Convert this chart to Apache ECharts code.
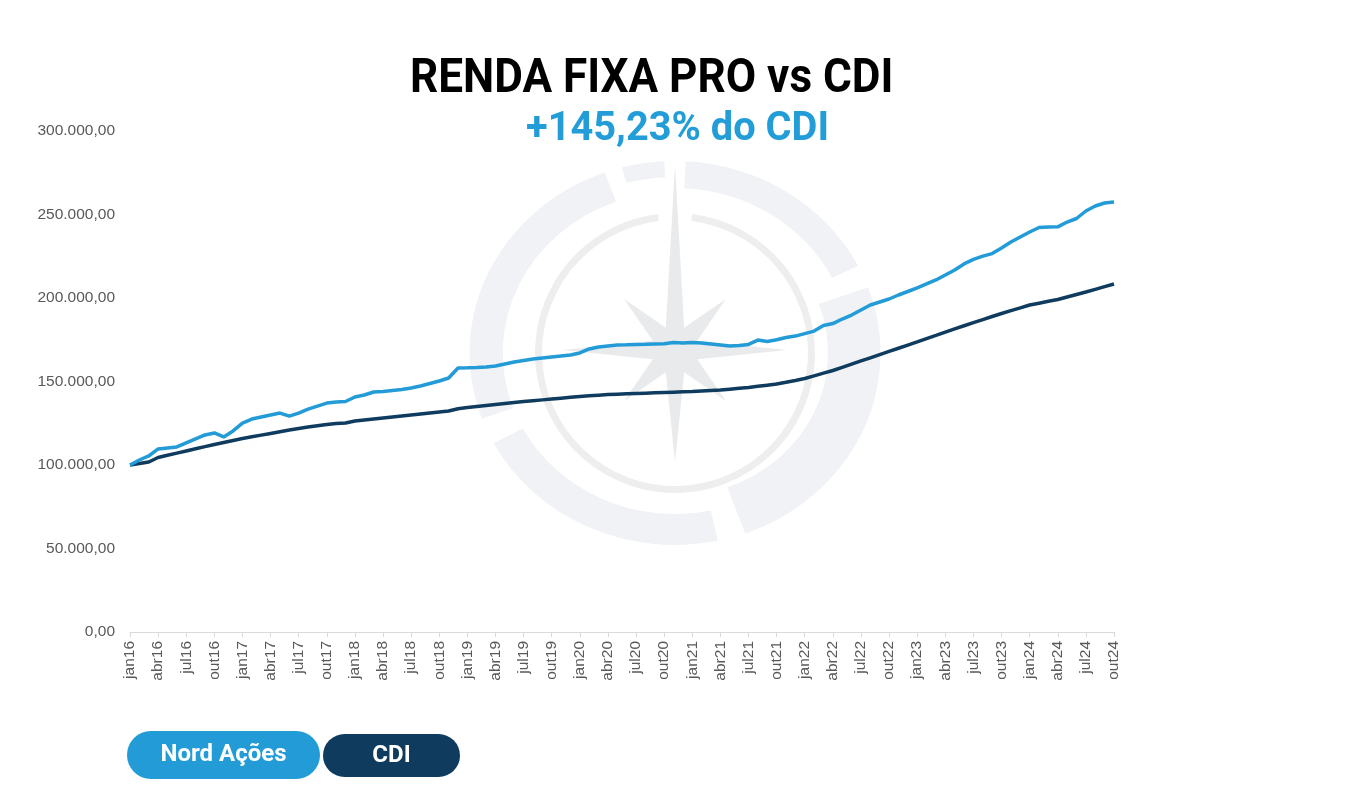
<!DOCTYPE html>
<html>
<head>
<meta charset="utf-8">
<script src="https://cdn.jsdelivr.net/npm/echarts@6/dist/echarts.min.js"></script>
<style>
html,body{margin:0;padding:0;background:#ffffff;}
#chart{width:1355px;height:798px;}
</style>
</head>
<body>
<div id="chart"></div>
<script>
// ---------- DATA ----------
var months = [
'jan16','fev16','mar16','abr16','mai16','jun16','jul16','ago16','set16','out16','nov16','dez16',
'jan17','fev17','mar17','abr17','mai17','jun17','jul17','ago17','set17','out17','nov17','dez17',
'jan18','fev18','mar18','abr18','mai18','jun18','jul18','ago18','set18','out18','nov18','dez18',
'jan19','fev19','mar19','abr19','mai19','jun19','jul19','ago19','set19','out19','nov19','dez19',
'jan20','fev20','mar20','abr20','mai20','jun20','jul20','ago20','set20','out20','nov20','dez20',
'jan21','fev21','mar21','abr21','mai21','jun21','jul21','ago21','set21','out21','nov21','dez21',
'jan22','fev22','mar22','abr22','mai22','jun22','jul22','ago22','set22','out22','nov22','dez22',
'jan23','fev23','mar23','abr23','mai23','jun23','jul23','ago23','set23','out23','nov23','dez23',
'jan24','fev24','mar24','abr24','mai24','jun24','jul24','ago24','set24','out24'
];

var nordAcoes = [
100000,103000,105400,109600,110200,110800,113200,115600,118000,119200,116800,120400,
125100,127500,128700,129900,131100,129300,131100,133500,135300,137100,137700,138000,
140700,141900,143700,144000,144600,145200,146100,147300,148800,150300,152100,158100,
158200,158400,158700,159300,160500,161700,162600,163500,164100,164700,165300,165900,
167100,169500,170700,171300,171900,172000,172200,172300,172500,172600,173400,173100,
173400,173100,172500,171900,171300,171600,172200,174800,174000,175000,176300,177200,
178700,180200,183500,184700,187400,189800,192800,195800,197600,199400,201800,203900,
206000,208400,210800,213800,216800,220400,223100,225100,226600,229900,233500,236500,
239500,242200,242500,242600,245500,247600,252100,255100,256900,257500
];

var cdi = [
100000,100900,101800,104500,105800,107100,108400,109700,111000,112300,113500,114700,
115900,116900,117900,118900,119900,120900,121900,122700,123500,124300,124800,125200,
126300,126900,127500,128100,128700,129300,129900,130500,131100,131700,132300,133700,
134400,135000,135600,136200,136800,137400,138000,138500,139000,139500,140000,140500,
141000,141400,141800,142200,142400,142600,142800,143000,143200,143400,143600,143800,
144000,144300,144600,144900,145400,145900,146400,147100,147800,148500,149500,150600,
151800,153400,155000,156600,158500,160400,162300,164200,166100,168000,169900,171800,
173700,175700,177600,179600,181500,183400,185300,187100,188900,190700,192400,194100,
195800,196900,198000,199100,200600,202100,203600,205200,206800,208400
];

var seriesNames = ['Nord Ações', 'CDI'];
var titleText = 'RENDA FIXA PRO vs CDI';
var subtitleText = '+145,23% do CDI';

// ---------- STYLE ----------
var LIGHT = '#229bd7';
var DARK = '#0f3c5e';
var RING = '#f0f2f6';
var STAR = '#e9eaec';

function brl(v) {
  var s = Math.round(v).toString();
  var out = '';
  for (var i = 0; i < s.length; i++) {
    if (i > 0 && (s.length - i) % 3 === 0) out += '.';
    out += s[i];
  }
  return out + ',00';
}

function deg(d) { return d * Math.PI / 180; }

// compass star polygon (decoration)
var starTips = [185, 72, 112, 72, 112, 72, 112, 72]; // N, NE, E, SE, S, SW, W, NW
var starPts = [];
for (var k = 0; k < 8; k++) {
  var a = -90 + k * 45;
  starPts.push([675 + starTips[k] * Math.cos(deg(a)), 350 + starTips[k] * Math.sin(deg(a))]);
  var b = a + 22.5;
  starPts.push([675 + 24 * Math.cos(deg(b)), 350 + 24 * Math.sin(deg(b))]);
}

function ring(s, e, r, r0) {
  return { type: 'sector', silent: true, z: 0,
    shape: { cx: 0, cy: 0, r: r, r0: r0, startAngle: deg(s), endAngle: deg(e), clockwise: true },
    style: { fill: RING } };
}

var chart = echarts.init(document.getElementById('chart'), null, { renderer: 'canvas' });

var option = {
  backgroundColor: '#ffffff',
  animation: false,
  grid: { left: 130, right: 241, top: 131, bottom: 166, containLabel: false },
  xAxis: {
    type: 'category',
    data: months,
    boundaryGap: false,
    axisLine: { show: true, lineStyle: { color: '#d9d9d9', width: 1 } },
    axisTick: { show: true, interval: 2, length: 5, lineStyle: { color: '#d9d9d9' } },
    axisLabel: {
      interval: 2, rotate: 90, margin: 9,
      color: '#595959', fontSize: 15.5, fontFamily: 'Liberation Sans, Arial, sans-serif'
    },
    splitLine: { show: false }
  },
  yAxis: {
    type: 'value',
    min: 0, max: 300000, interval: 50000,
    axisLine: { show: false },
    axisTick: { show: false },
    splitLine: { show: false },
    axisLabel: {
      margin: 15, color: '#595959', fontSize: 15.5,
      fontFamily: 'Liberation Sans, Arial, sans-serif',
      formatter: function (v) { return brl(v); }
    }
  },
  series: [
    {
      name: seriesNames[1], type: 'line', data: cdi, showSymbol: false, z: 5,
      lineStyle: { color: DARK, width: 3.5 }, itemStyle: { color: DARK }
    },
    {
      name: seriesNames[0], type: 'line', data: nordAcoes, showSymbol: false, z: 6,
      lineStyle: { color: LIGHT, width: 3.5 }, itemStyle: { color: LIGHT }
    }
  ],
  graphic: [
    // watermark outer ring
    {
      type: 'group', x: 675, y: 353, scaleX: 1.07, silent: true, z: 0,
      children: [
        ring(160, 250, 192, 161),
        ring(255, 267, 192, 176),
        ring(273, 333, 192, 165),
        ring(340, 430, 192, 143),
        ring(78, 152, 192, 161)
      ]
    },
    // inner thin ring
    {
      type: 'sector', silent: true, z: 0,
      shape: { cx: 675, cy: 353, r: 140, r0: 133, startAngle: deg(277), endAngle: deg(623), clockwise: true },
      style: { fill: '#eeeeef' }
    },
    // star
    {
      type: 'polygon', silent: true, z: 0,
      shape: { points: starPts },
      style: { fill: STAR }
    },
    // title
    {
      type: 'text', x: 410, y: 80, scaleX: 0.9, z: 10,
      style: { text: titleText, x: 0, y: 0, fill: '#000000', fontSize: 49, fontWeight: 'bold',
        fontFamily: 'Roboto, sans-serif', verticalAlign: 'middle', align: 'left' }
    },
    {
      type: 'text', x: 526, y: 130, scaleX: 0.97, z: 10,
      style: { text: subtitleText, x: 0, y: 0, fill: '#229dd8', fontSize: 41, fontWeight: 'bold',
        fontFamily: 'Roboto, sans-serif', verticalAlign: 'middle', align: 'left' }
    },
    // legend pills
    {
      type: 'rect', z: 10,
      shape: { x: 127, y: 731, width: 193, height: 48, r: 24 },
      style: { fill: LIGHT }
    },
    {
      type: 'text', x: 223.5, y: 755, z: 11,
      style: { text: seriesNames[0], x: 0, y: 0, fill: '#ffffff', fontSize: 24, fontWeight: 'bold',
        fontFamily: 'Roboto, sans-serif', verticalAlign: 'middle', align: 'center' }
    },
    {
      type: 'rect', z: 10,
      shape: { x: 323, y: 734, width: 137, height: 43, r: 21.5 },
      style: { fill: DARK }
    },
    {
      type: 'text', x: 391.5, y: 755.5, z: 11,
      style: { text: seriesNames[1], x: 0, y: 0, fill: '#ffffff', fontSize: 24, fontWeight: 'bold',
        fontFamily: 'Roboto, sans-serif', verticalAlign: 'middle', align: 'center' }
    }
  ]
};

chart.setOption(option);
</script>
</body>
</html>
